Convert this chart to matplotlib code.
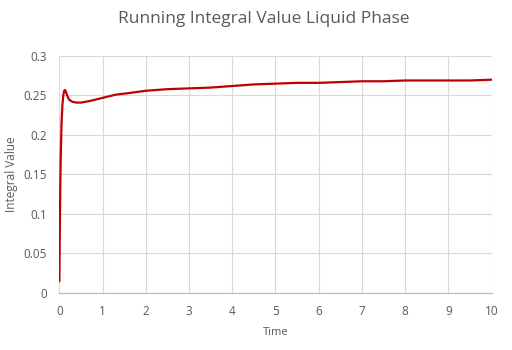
import matplotlib
matplotlib.use("Agg")
import matplotlib.pyplot as plt

# Running integral of the liquid phase over time
time = [0.0, 0.01, 0.02, 0.03, 0.05, 0.07, 0.09, 0.11, 0.13, 0.15, 0.18, 0.22, 0.3,
        0.4, 0.5, 0.7, 1.0, 1.3, 1.6, 2.0, 2.5, 3.0, 3.5, 4.0, 4.5, 5.0,
        5.5, 6.0, 6.5, 7.0, 7.5, 8.0, 8.5, 9.0, 9.5, 10.0]
integral = [0.015, 0.08, 0.13, 0.17, 0.215, 0.238, 0.250, 0.256, 0.257, 0.255, 0.250, 0.245, 0.242,
            0.241, 0.241, 0.243, 0.247, 0.251, 0.253, 0.256, 0.258, 0.259, 0.260, 0.262, 0.264, 0.265,
            0.266, 0.266, 0.267, 0.268, 0.268, 0.269, 0.269, 0.269, 0.269, 0.270]

x_ticks = list(range(0, 11))
y_ticks = [0, 0.05, 0.1, 0.15, 0.2, 0.25, 0.3]
y_tick_labels = ["0", "0.05", "0.1", "0.15", "0.2", "0.25", "0.3"]

plt.rcParams['font.family'] = ['Open Sans', 'DejaVu Sans']
text_gray = "#595959"

fig = plt.figure(figsize=(5.12, 3.5), dpi=100)
ax = fig.add_axes([0.116, 0.163, 0.844, 0.677])

ax.plot(time, integral, color="#C00000", linewidth=1.6, solid_capstyle="round")

ax.set_xlim(0, 10)
ax.set_ylim(0, 0.3)
ax.set_xticks(x_ticks)
ax.set_yticks(y_ticks)
ax.set_yticklabels(y_tick_labels)

ax.grid(True, color="#D9D9D9", linewidth=0.8)
ax.set_axisbelow(True)
for side in ["top", "right", "left"]:
    ax.spines[side].set_visible(False)
ax.spines["bottom"].set_color("#BFBFBF")
ax.spines["bottom"].set_linewidth(0.9)
ax.tick_params(length=0, labelsize=8.5, colors=text_gray, pad=9)

ax.set_xlabel("Time", fontsize=8, color=text_gray, labelpad=6)
ax.set_ylabel("Integral Value", fontsize=8.5, color=text_gray, labelpad=4)
fig.text(0.515, 0.945, "Running Integral Value Liquid Phase", ha="center", va="center",
         fontsize=12.5, color=text_gray)

fig.savefig("out.png", dpi=100, facecolor="white")
